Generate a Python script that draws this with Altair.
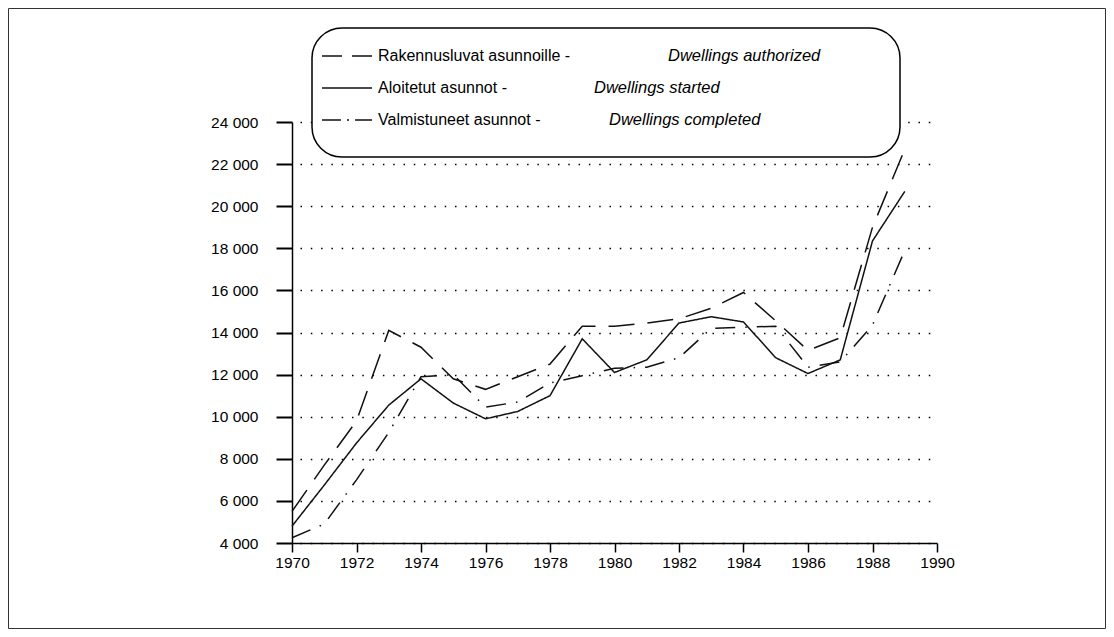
import altair as alt
import pandas as pd

# ---- data ----
years = list(range(1970, 1990))
authorized = [5500, 7700, 9800, 14100, 13300, 11800, 11300, 11900, 12500, 14300,
              14300, 14450, 14650, 15150, 15900, 14550, 13150, 13750, 19000, 22700]
started = [4800, 6750, 8750, 10550, 11800, 10650, 9900, 10250, 11000, 13700,
           12100, 12700, 14450, 14750, 14500, 12800, 12050, 12700, 18350, 20700]
completed = [4250, 4900, 7000, 9250, 11900, 12000, 10450, 10700, 11600, 11950,
             12300, 12350, 12800, 14200, 14250, 14300, 12350, 12600, 14350, 17900]

series_key = ["authorized", "started", "completed"]
series_fi = ["Rakennusluvat asunnoille -", "Aloitetut asunnot -", "Valmistuneet asunnot -"]
series_en = ["Dwellings authorized", "Dwellings started", "Dwellings completed"]
x_ticks = list(range(1970, 1991, 2))
y_ticks = list(range(4000, 24001, 2000))

rows = []
for k, vals in zip(series_key, [authorized, started, completed]):
    for yr, v in zip(years, vals):
        rows.append({"year": yr, "value": v, "series": k})
df = pd.DataFrame(rows)

# ---- styling ----
FONT = "Liberation Sans"
W, H = 645, 421
PAD_L, PAD_T = 284, 114
CANVAS_W, CANVAS_H = 1098, 621
dash_range = [[26, 13], [1, 0], [20, 10, 1.5, 10]]

xscale = alt.Scale(domain=[1970, 1990], nice=False, zero=False)
yscale = alt.Scale(domain=[4000, 24000], nice=False, zero=False)

lines = alt.Chart(df).mark_line(color="#111", strokeWidth=1.5).encode(
    x=alt.X("year:Q", scale=xscale,
            axis=alt.Axis(values=x_ticks, format="d", title=None, grid=False,
                          tickSize=9, tickWidth=1.5, tickColor="black",
                          domainColor="black", domainWidth=1.5,
                          labelFont=FONT, labelFontSize=15.5, labelColor="black",
                          labelFlush=False, labelOverlap=False,
                          labelPadding=3)),
    y=alt.Y("value:Q", scale=yscale,
            axis=alt.Axis(values=y_ticks, title=None, grid=True,
                          gridDash=[1.5, 8.8], gridColor="black", gridWidth=1.3,
                          gridDashOffset=-8,
                          tickSize=16, tickWidth=2, tickColor="black",
                          domainColor="black", domainWidth=1.5,
                          labelExpr="replace(format(datum.value, ','), ',', ' ')",
                          labelFont=FONT, labelFontSize=15.5, labelColor="black",
                          labelFlush=False, labelOverlap=False,
                          labelPadding=18)),
    strokeDash=alt.StrokeDash("series:N",
                              scale=alt.Scale(domain=series_key, range=dash_range),
                              legend=None),
    detail="series:N",
)

one = pd.DataFrame({"a": [0]})

# legend box
box = alt.Chart(one).mark_rect(cornerRadius=30, fill="white", stroke="black",
                               strokeWidth=1.5).encode(
    x=alt.value(20), x2=alt.value(608), y=alt.value(-94), y2=alt.value(35))

legend_layers = [box]
row_y = [-66, -34, -2]
en_x = [376, 302, 317]
legend_dash = [[20, 10], [1, 0], [19, 6, 2, 6]]
for i in range(3):
    legend_layers.append(
        alt.Chart(one).mark_rule(color="#111", strokeWidth=1.5,
                                 strokeDash=legend_dash[i]).encode(
            x=alt.value(30), x2=alt.value(80), y=alt.value(row_y[i])))
    legend_layers.append(
        alt.Chart(one).mark_text(text=series_fi[i], align="left", baseline="middle",
                                 font=FONT, fontSize=16, color="black").encode(
            x=alt.value(86), y=alt.value(row_y[i])))
    legend_layers.append(
        alt.Chart(one).mark_text(text=series_en[i], align="left", baseline="middle",
                                 font=FONT, fontSize=16.5, fontStyle="italic",
                                 color="black").encode(
            x=alt.value(en_x[i]), y=alt.value(row_y[i])))

# outer frame
frame = alt.Chart(one).mark_rect(fill=None, stroke="#333", strokeWidth=1).encode(
    x=alt.value(-PAD_L + 0.5), x2=alt.value(CANVAS_W - PAD_L - 0.5),
    y=alt.value(-PAD_T + 0.5), y2=alt.value(CANVAS_H - PAD_T - 0.5))

chart = alt.layer(lines, *legend_layers, frame).properties(
    width=W, height=H,
    padding={"left": PAD_L, "top": PAD_T,
             "right": CANVAS_W - PAD_L - W, "bottom": CANVAS_H - PAD_T - H},
    autosize=alt.AutoSizeParams(type="none"),
    background="white",
).configure_view(stroke=None)

chart.save("out.html", embed_options={"renderer": "svg", "actions": False})
